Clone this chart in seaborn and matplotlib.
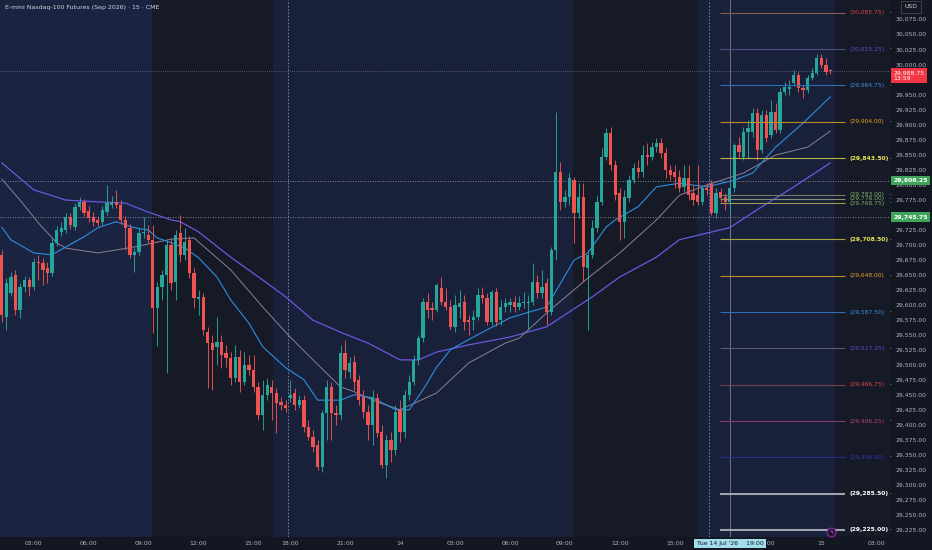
import numpy as np
import pandas as pd
import matplotlib
matplotlib.use("Agg")
import matplotlib.pyplot as plt
import matplotlib.transforms as mtransforms
import seaborn as sns

# 15 min bars of NQ (Sep 2026), 13 Jul 01:15 -> 15 Jul 00:15, session gaps removed
opens = [29683, 29579, 29619, 29649, 29591, 29629, 29641, 29629, 29671, 29669,
         29661, 29653, 29703, 29721, 29724, 29746, 29729, 29762, 29771, 29756,
         29746, 29741, 29738, 29754, 29766, 29771, 29766, 29741, 29728, 29683,
         29688, 29719, 29716, 29708, 29594, 29629, 29649, 29699, 29638, 29719,
         29683, 29708, 29653, 29609, 29613, 29554, 29536, 29529, 29538, 29519,
         29511, 29478, 29513, 29471, 29499, 29491, 29463, 29416, 29449, 29463,
         29453, 29438, 29433, 29444, 29453, 29433, 29441, 29396, 29380, 29366,
         29330, 29420, 29463, 29420, 29416, 29519, 29488, 29504, 29474, 29446,
         29421, 29400, 29444, 29388, 29333, 29375, 29358, 29425, 29388, 29449,
         29471, 29508, 29544, 29604, 29594, 29591, 29628, 29604, 29596, 29563,
         29596, 29604, 29574, 29574, 29579, 29616, 29611, 29571, 29621, 29574,
         29596, 29599, 29604, 29596, 29603, 29603, 29604, 29638, 29619, 29636,
         29588, 29691, 29821, 29771, 29779, 29807, 29752, 29779, 29661, 29683,
         29728, 29771, 29846, 29886, 29832, 29786, 29738, 29777, 29807, 29827,
         29821, 29849, 29846, 29862, 29869, 29852, 29824, 29821, 29812, 29796,
         29811, 29786, 29782, 29771, 29794, 29801, 29752, 29787, 29779, 29771,
         29794, 29866, 29846, 29887, 29887, 29919, 29857, 29916, 29882, 29921,
         29891, 29954, 29959, 29969, 29982, 29961, 29957, 29977, 29986, 30010,
         29999, 29990]
highs = [29691, 29644, 29654, 29658, 29636, 29648, 29646, 29678, 29683, 29678,
         29671, 29711, 29731, 29738, 29752, 29752, 29769, 29779, 29776, 29764,
         29754, 29747, 29764, 29799, 29781, 29791, 29774, 29747, 29734, 29694,
         29728, 29746, 29733, 29733, 29638, 29658, 29708, 29711, 29724, 29749,
         29728, 29714, 29661, 29624, 29619, 29563, 29549, 29579, 29549, 29533,
         29521, 29533, 29524, 29521, 29516, 29516, 29471, 29474, 29478, 29474,
         29461, 29446, 29441, 29474, 29461, 29449, 29449, 29408, 29391, 29375,
         29425, 29474, 29471, 29433, 29533, 29541, 29513, 29516, 29483, 29458,
         29433, 29458, 29453, 29400, 29383, 29388, 29433, 29441, 29458, 29483,
         29516, 29549, 29611, 29619, 29604, 29636, 29646, 29628, 29608, 29616,
         29624, 29616, 29583, 29591, 29628, 29629, 29619, 29624, 29628, 29608,
         29611, 29611, 29614, 29614, 29621, 29616, 29669, 29649, 29658, 29644,
         29696, 29921, 29837, 29791, 29819, 29812, 29802, 29802, 29691, 29741,
         29783, 29861, 29894, 29896, 29841, 29794, 29791, 29816, 29836, 29841,
         29866, 29869, 29871, 29877, 29877, 29861, 29832, 29832, 29824, 29832,
         29832, 29799, 29832, 29799, 29802, 29807, 29794, 29794, 29786, 29799,
         29869, 29879, 29896, 29907, 29927, 29927, 29924, 29924, 29941, 29936,
         29961, 29971, 29974, 29991, 29987, 29966, 29982, 29994, 30017, 30017,
         30010, 29992]
lows = [29571, 29558, 29614, 29583, 29578, 29621, 29614, 29624, 29641, 29633,
        29636, 29648, 29698, 29714, 29719, 29726, 29724, 29757, 29747, 29738,
        29731, 29731, 29733, 29749, 29761, 29761, 29734, 29691, 29678, 29654,
        29683, 29711, 29703, 29553, 29531, 29608, 29486, 29624, 29608, 29671,
        29674, 29644, 29594, 29583, 29549, 29461, 29458, 29499, 29494, 29496,
        29466, 29471, 29455, 29466, 29483, 29455, 29408, 29391, 29441, 29408,
        29386, 29425, 29421, 29438, 29425, 29428, 29388, 29375, 29355, 29325,
        29321, 29375, 29375, 29400, 29408, 29478, 29478, 29458, 29433, 29411,
        29375, 29366, 29380, 29328, 29311, 29338, 29350, 29371, 29378, 29441,
        29466, 29499, 29538, 29578, 29574, 29588, 29599, 29591, 29558, 29554,
        29578, 29558, 29549, 29558, 29574, 29603, 29566, 29566, 29564, 29566,
        29588, 29588, 29588, 29591, 29594, 29558, 29599, 29611, 29611, 29566,
        29583, 29674, 29757, 29762, 29766, 29703, 29744, 29638, 29558, 29678,
        29721, 29766, 29841, 29824, 29774, 29708, 29711, 29771, 29802, 29811,
        29812, 29832, 29841, 29854, 29844, 29811, 29807, 29794, 29787, 29787,
        29774, 29766, 29766, 29766, 29782, 29749, 29744, 29771, 29757, 29752,
        29787, 29846, 29841, 29844, 29879, 29841, 29852, 29871, 29877, 29886,
        29886, 29949, 29949, 29964, 29954, 29944, 29952, 29974, 29982, 29994,
        29982, 29984]
closes = [29583, 29636, 29646, 29591, 29629, 29641, 29629, 29671, 29669, 29658,
          29653, 29703, 29724, 29728, 29746, 29733, 29762, 29771, 29752, 29744,
          29738, 29736, 29757, 29769, 29771, 29766, 29741, 29728, 29683, 29688,
          29719, 29721, 29708, 29594, 29629, 29649, 29699, 29636, 29716, 29683,
          29704, 29653, 29611, 29613, 29558, 29536, 29524, 29538, 29516, 29511,
          29478, 29513, 29471, 29499, 29491, 29463, 29416, 29449, 29466, 29453,
          29436, 29433, 29428, 29449, 29433, 29441, 29396, 29380, 29363, 29330,
          29420, 29463, 29420, 29416, 29519, 29491, 29503, 29471, 29441, 29421,
          29400, 29446, 29386, 29333, 29375, 29358, 29421, 29388, 29449, 29471,
          29508, 29544, 29604, 29591, 29591, 29633, 29604, 29596, 29563, 29599,
          29603, 29571, 29571, 29579, 29616, 29611, 29571, 29621, 29571, 29596,
          29603, 29604, 29596, 29603, 29604, 29604, 29638, 29619, 29629, 29588,
          29691, 29821, 29771, 29779, 29811, 29752, 29779, 29663, 29683, 29728,
          29771, 29846, 29886, 29832, 29782, 29738, 29779, 29807, 29827, 29821,
          29849, 29846, 29862, 29869, 29852, 29824, 29816, 29812, 29794, 29811,
          29782, 29774, 29771, 29794, 29791, 29752, 29786, 29777, 29771, 29794,
          29866, 29854, 29887, 29894, 29919, 29857, 29916, 29877, 29921, 29891,
          29954, 29962, 29962, 29982, 29961, 29957, 29977, 29986, 30010, 29999,
          29987, 29988.75]

# moving averages (bar index, price)
ema_fast_idx = [0, 2, 7, 11, 14, 18, 21, 25, 29, 32, 34, 37, 40, 43, 47, 50, 54, 57,
                62, 66, 69, 74, 77, 81, 86, 89, 92, 95, 98, 103, 111, 119, 125, 128,
                132, 134, 139, 143, 148, 154, 160, 164, 169, 175, 181]
ema_fast = [29729, 29708, 29686, 29683, 29696, 29713, 29728, 29738, 29728, 29724,
            29711, 29703, 29694, 29678, 29646, 29608, 29569, 29530, 29495, 29475,
            29441, 29441, 29450, 29445, 29425, 29425, 29458, 29496, 29525, 29546,
            29578, 29596, 29674, 29686, 29729, 29741, 29763, 29796, 29802, 29796,
            29807, 29819, 29862, 29902, 29946]
ema_mid_idx = [0, 4, 8, 12, 14, 21, 29, 34, 37, 42, 45, 50, 57, 63, 68, 74, 77, 82,
               87, 95, 102, 110, 113, 119, 128, 135, 143, 148, 154, 162, 169, 176, 181]
ema_mid = [29809, 29774, 29736, 29703, 29694, 29686, 29696, 29704, 29709, 29711,
           29691, 29658, 29596, 29546, 29508, 29463, 29455, 29438, 29425, 29453,
           29503, 29536, 29544, 29586, 29644, 29686, 29741, 29782, 29799, 29819,
           29849, 29862, 29889]
ema_slow_idx = [0, 7, 14, 21, 27, 32, 37, 39, 43, 50, 57, 62, 68, 74, 80, 87, 91, 95,
                102, 111, 119, 129, 135, 143, 148, 154, 159, 165, 173, 181]
ema_slow = [29836, 29791, 29774, 29771, 29769, 29754, 29741, 29738, 29721, 29679,
            29641, 29613, 29574, 29554, 29536, 29508, 29508, 29521, 29533, 29546,
            29563, 29613, 29646, 29679, 29708, 29719, 29728, 29758, 29796, 29836]

# horizontal levels drawn on the right
level_prices = [30085.75, 30025.25, 29964.75, 29904.00, 29843.50, 29783.00, 29776.00,
                29768.75, 29708.50, 29648.00, 29587.50, 29527.25, 29466.75, 29406.25,
                29346.00, 29285.50, 29225.00]
level_line_colors = ['#8c5a55', '#4d4f80', '#2d6fb5', '#c08a2a', '#b5b548', '#6f7f6a',
                     '#8a8f78', '#9a9a5a', '#a8a83a', '#c08a2a', '#2d6fb5', '#5a5a7a',
                     '#7a4048', '#8a3a68', '#2a2a90', '#a0a4ae', '#a0a4ae']
level_text_colors = ['#e0473c', '#5a4fcf', '#3b8fe0', '#f0a020', '#eaea50', '#7fae6a',
                     '#7fae6a', '#7fae6a', '#eaea50', '#f0a020', '#3b8fe0', '#5a4fcf',
                     '#e0473c', '#c2407a', '#3434b8', '#ffffff', '#ffffff']
level_bold = [False, False, False, False, True, False, False, False, True, False,
              False, False, False, False, False, True, True]

marked_prices = [29806.25, 29745.75]
last_price = 29988.75

tick_pos = [7, 19, 31, 43, 55, 63, 75, 87, 99, 111, 123, 135, 147, 155, 167, 179, 191]
tick_labels = ['03:00', '06:00', '09:00', '12:00', '15:00', '18:00', '21:00', '14',
               '03:00', '06:00', '09:00', '12:00', '15:00', '18:00', '21:00', '15', '03:00']

df = pd.DataFrame({'open': opens, 'high': highs, 'low': lows, 'close': closes})
df['bar'] = np.arange(len(df))

sns.set_theme(style='dark')
plt.rcParams['font.family'] = ['DejaVu Sans']

fig = plt.figure(figsize=(9.32, 5.5), dpi=100, facecolor='#131722')
ax = fig.add_axes([0, 13 / 550, 890 / 932, 537 / 550])
ax.set_facecolor('#18203a')

# left side is a touch lighter
ax.axvspan(-0.4, 32.8, color='#1a2340', lw=0, zorder=0)
# regular session shading + right edge
for a, b in [(32.8, 59.3), (124.8, 151.9), (182.0, 195.0)]:
    ax.axvspan(a, b, color='#161a26', lw=0, zorder=0)

# candles
up = df['close'] >= df['open']
cols = np.where(up, '#26a69a', '#ef5350')
ax.vlines(df['bar'], df['low'], df['high'], colors=cols, lw=0.65, zorder=3)
body = (df['close'] - df['open']).abs().clip(lower=1.3)
ax.bar(df['bar'], body, bottom=df[['open', 'close']].min(axis=1), width=0.72,
       color=cols, lw=0, zorder=4)

# moving averages
sns.lineplot(x=ema_slow_idx, y=ema_slow, ax=ax, color='#6a58e0', lw=0.9, zorder=2)
sns.lineplot(x=ema_mid_idx, y=ema_mid, ax=ax, color='#8c8097', lw=0.7, zorder=2)
sns.lineplot(x=ema_fast_idx, y=ema_fast, ax=ax, color='#2b8fe0', lw=0.8, zorder=2)

# dotted price lines and vertical markers
for p in marked_prices:
    ax.axhline(p, color='#a9adba', lw=0.6, ls=(0, (1, 2)), zorder=1)
ax.axhline(last_price, color='#8b8f9c', lw=0.5, ls=(0, (1, 2)), zorder=1)
for v in [62.6, 154.5]:
    ax.axvline(v, color='#7e8db3', lw=0.6, ls=(0, (2, 2)), zorder=1)
ax.axvline(159, color='#9598a1', lw=0.5, zorder=1)

# levels
for p, lc, tc, b in zip(level_prices, level_line_colors, level_text_colors, level_bold):
    lw = 1.5 if tc == '#ffffff' else 0.8
    ax.hlines(p, 156.9, 184.2, color=lc, lw=lw, zorder=5)
    ax.text(185.2, p, f'({p:,.2f})', color=tc, fontsize=4.3, va='center', ha='left',
            fontweight='bold' if b else 'normal', zorder=6)
    ax.text(194.1, p, '-', color='#b2b5be', fontsize=3.5, va='center', ha='center')

ax.scatter([181.1], [29221.5], s=40, facecolor='#1c1830', edgecolor='#9c27b0', lw=0.8, zorder=7)
ax.text(181.1, 29221.5, 'ϟ', color='#d070e0', fontsize=4, ha='center', va='center', zorder=8)

ax.set_xlim(-0.37, 194.0)
ax.set_ylim(29213.2, 30107)
ax.grid(False)
for s in ax.spines.values():
    s.set_visible(False)

ax.set_xticks(tick_pos)
ax.set_xticklabels(tick_labels)
price_ticks = np.arange(29225, 30076, 25)
ax.yaxis.tick_right()
ax.set_yticks(price_ticks)
ax.set_yticklabels([f'{v:,.2f}' for v in price_ticks])
ax.tick_params(axis='x', length=0, pad=2.6, labelsize=4.4, labelcolor='#b2b5be')
ax.tick_params(axis='y', length=0, pad=3.8, labelsize=4.4, labelcolor='#b2b5be')
ax.set_xlabel('')
ax.set_ylabel('')

# price axis labels
tr = mtransforms.blended_transform_factory(ax.transAxes, ax.transData)
for p in marked_prices:
    ax.text(1.004, p, f'{p:,.2f}', transform=tr, fontsize=4.4, color='white',
            fontweight='bold', va='center', ha='left', zorder=10,
            bbox=dict(boxstyle='square,pad=0.35', fc='#3fa55a', ec='none'))
ax.text(1.004, last_price - 8, f'{last_price:,.2f}\n13:59', transform=tr, fontsize=4.4,
        color='white', va='center', ha='left', linespacing=1.25, zorder=10,
        bbox=dict(boxstyle='square,pad=0.35', fc='#f23645', ec='none'))

fig.text(5 / 932, 1 - 7 / 550, 'E-mini Nasdaq-100 Futures (Sep 2026) · 15 · CME',
         color='#d1d4dc', fontsize=4.5, va='center', ha='left')
fig.text(911 / 932, 1 - 7 / 550, 'USD', color='#d1d4dc', fontsize=4.4, va='center',
         ha='center', bbox=dict(boxstyle='square,pad=0.5', fc='#131722', ec='#50535e', lw=0.5))
fig.text(730 / 932, 6.5 / 550, "Tue 14 Jul '26    19:00", color='#131722', fontsize=4.4,
         va='center', ha='center',
         bbox=dict(boxstyle='square,pad=0.4', fc='#a3dcea', ec='none'))

fig.savefig('out.png', dpi=100, facecolor=fig.get_facecolor())
